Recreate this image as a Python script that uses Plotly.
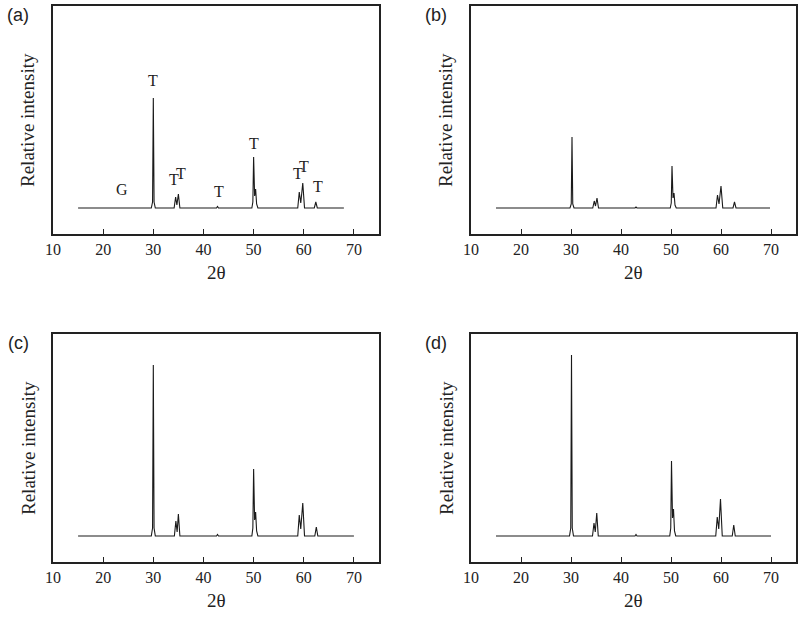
import plotly.graph_objects as go

# ---- data (relative intensity, arbitrary units; baseline = 0) ----
two_theta_ticks = [10, 20, 30, 40, 50, 60, 70]
tick_labels = ["10", "20", "30", "40", "50", "60", "70"]

A_x = [15, 29.6, 29.85, 30.0, 30.15, 30.4, 34.15, 34.45, 34.7, 35.0, 35.3, 42.6, 42.8, 43.0,
       49.65, 49.85, 50.0, 50.2, 50.4, 50.6, 50.85, 58.8, 59.1, 59.4, 59.8, 60.15, 62.1, 62.4, 62.7, 68.0]
A_y = [0, 0, 6, 110, 6, 0, 0, 11, 3, 14, 0, 0, 1.5, 0,
       0, 6, 51, 12, 19, 4, 0, 0, 16, 5, 25, 0, 0, 6, 0, 0]

B_x = [15, 29.8, 30.05, 30.2, 30.35, 30.6, 34.35, 34.65, 34.9, 35.2, 35.5, 42.8, 43.0, 43.2,
       49.85, 50.05, 50.2, 50.4, 50.6, 50.8, 51.05, 59.0, 59.3, 59.6, 60.0, 60.35, 62.4, 62.7, 63.0, 69.8]
B_y = [0, 0, 4, 71, 4, 0, 0, 7, 2, 10, 0, 0, 1, 0,
       0, 5, 42, 10, 15, 3, 0, 0, 13, 4, 22, 0, 0, 6, 0, 0]

C_x = [15, 29.6, 29.85, 30.0, 30.15, 30.4, 34.2, 34.5, 34.75, 35.0, 35.3, 42.6, 42.8, 43.0,
       49.65, 49.85, 50.0, 50.2, 50.4, 50.6, 50.85, 58.8, 59.1, 59.4, 59.8, 60.15, 62.2, 62.5, 62.8, 70.0]
C_y = [0, 0, 8, 171, 8, 0, 0, 15, 4, 22, 0, 0, 1.5, 0,
       0, 8, 67, 16, 24, 5, 0, 0, 21, 7, 33, 0, 0, 9, 0, 0]

D_x = [15, 29.7, 29.95, 30.1, 30.25, 30.5, 34.3, 34.6, 34.85, 35.15, 35.45, 42.8, 43.0, 43.2,
       49.75, 49.95, 50.1, 50.3, 50.5, 50.7, 50.95, 58.95, 59.25, 59.55, 59.9, 60.25, 62.25, 62.55, 62.85, 70.0]
D_y = [0, 0, 8, 181, 8, 0, 0, 13, 4, 23, 0, 0, 1.5, 0,
       0, 8, 75, 18, 27, 5, 0, 0, 19, 7, 37, 0, 0, 11, 0, 0]

# phase labels in panel (a)
label_text = ["G", "T", "T", "T", "T", "T", "T", "T", "T"]
label_x = [23.8, 30.0, 34.1, 35.6, 43.0, 50.1, 58.9, 60.0, 62.9]
label_y = [19, 128, 29, 35, 17, 65, 35, 42, 22]

panels = [("(a)", A_x, A_y), ("(b)", B_x, B_y), ("(c)", C_x, C_y), ("(d)", D_x, D_y)]

W, H = 800, 617
x_domains = [(53, 379), (471, 796), (53, 379), (471, 796)]
y_domains = [(6, 234), (6, 234), (334, 562), (334, 562)]

serif = "Liberation Serif, Times New Roman, serif"
sans = "Liberation Sans, Arial, sans-serif"

fig = go.Figure()
layout = dict(width=W, height=H, margin=dict(l=0, r=0, t=0, b=0, autoexpand=False),
              paper_bgcolor="white", plot_bgcolor="white", showlegend=False)
annotations = []

for i, (lab, xs, ys) in enumerate(panels):
    n = i + 1
    sfx = "" if n == 1 else str(n)
    fig.add_trace(go.Scatter(x=xs, y=ys, mode="lines",
                             line=dict(color="#1a1a1a", width=1.1),
                             xaxis="x" + sfx, yaxis="y" + sfx, hoverinfo="skip"))
    x0, x1 = x_domains[i]
    y0, y1 = y_domains[i]
    layout["xaxis" + sfx] = dict(
        domain=[x0 / W, x1 / W], anchor="y" + sfx, range=[10, 75], automargin=False,
        tickmode="array", tickvals=two_theta_ticks, ticktext=tick_labels,
        ticks="inside", ticklen=5, tickwidth=1, tickcolor="#222",
        showgrid=False, zeroline=False, showline=True, linecolor="#222", linewidth=1.5,
        mirror=True, tickfont=dict(family=serif, size=16, color="#222"))
    layout["yaxis" + sfx] = dict(
        domain=[1 - y1 / H, 1 - y0 / H], anchor="x" + sfx, range=[-26, 202], automargin=False,
        showticklabels=False, ticks="", showgrid=False, zeroline=False,
        showline=True, linecolor="#222", linewidth=1.5, mirror=True)
    # axis titles
    annotations.append(dict(text="2θ", xref="paper", yref="paper",
                            x=(x0 + x1) / 2 / W, y=1 - (y1 + 38) / H,
                            showarrow=False, font=dict(family=serif, size=19, color="#222"),
                            xanchor="center", yanchor="middle"))
    annotations.append(dict(text="Relative intensity", xref="paper", yref="paper",
                            x=(x0 - 25) / W, y=1 - (y0 + y1) / 2 / H, textangle=-90,
                            showarrow=False, font=dict(family=serif, size=19, color="#222"),
                            xanchor="center", yanchor="middle"))
    annotations.append(dict(text=lab, xref="paper", yref="paper",
                            x=(x0 - 35) / W, y=1 - (y0 + 9) / H,
                            showarrow=False, font=dict(family=sans, size=18, color="#222"),
                            xanchor="center", yanchor="middle"))

for t, lx, ly in zip(label_text, label_x, label_y):
    annotations.append(dict(text=t, x=lx, y=ly, xref="x", yref="y", showarrow=False,
                            font=dict(family=serif, size=16, color="#222"),
                            xanchor="center", yanchor="middle"))

layout["annotations"] = annotations
fig.update_layout(**layout)
fig.write_html("out.html", config={"displayModeBar": False},
               post_script="document.body.style.margin='0';document.body.style.overflow='hidden';")
